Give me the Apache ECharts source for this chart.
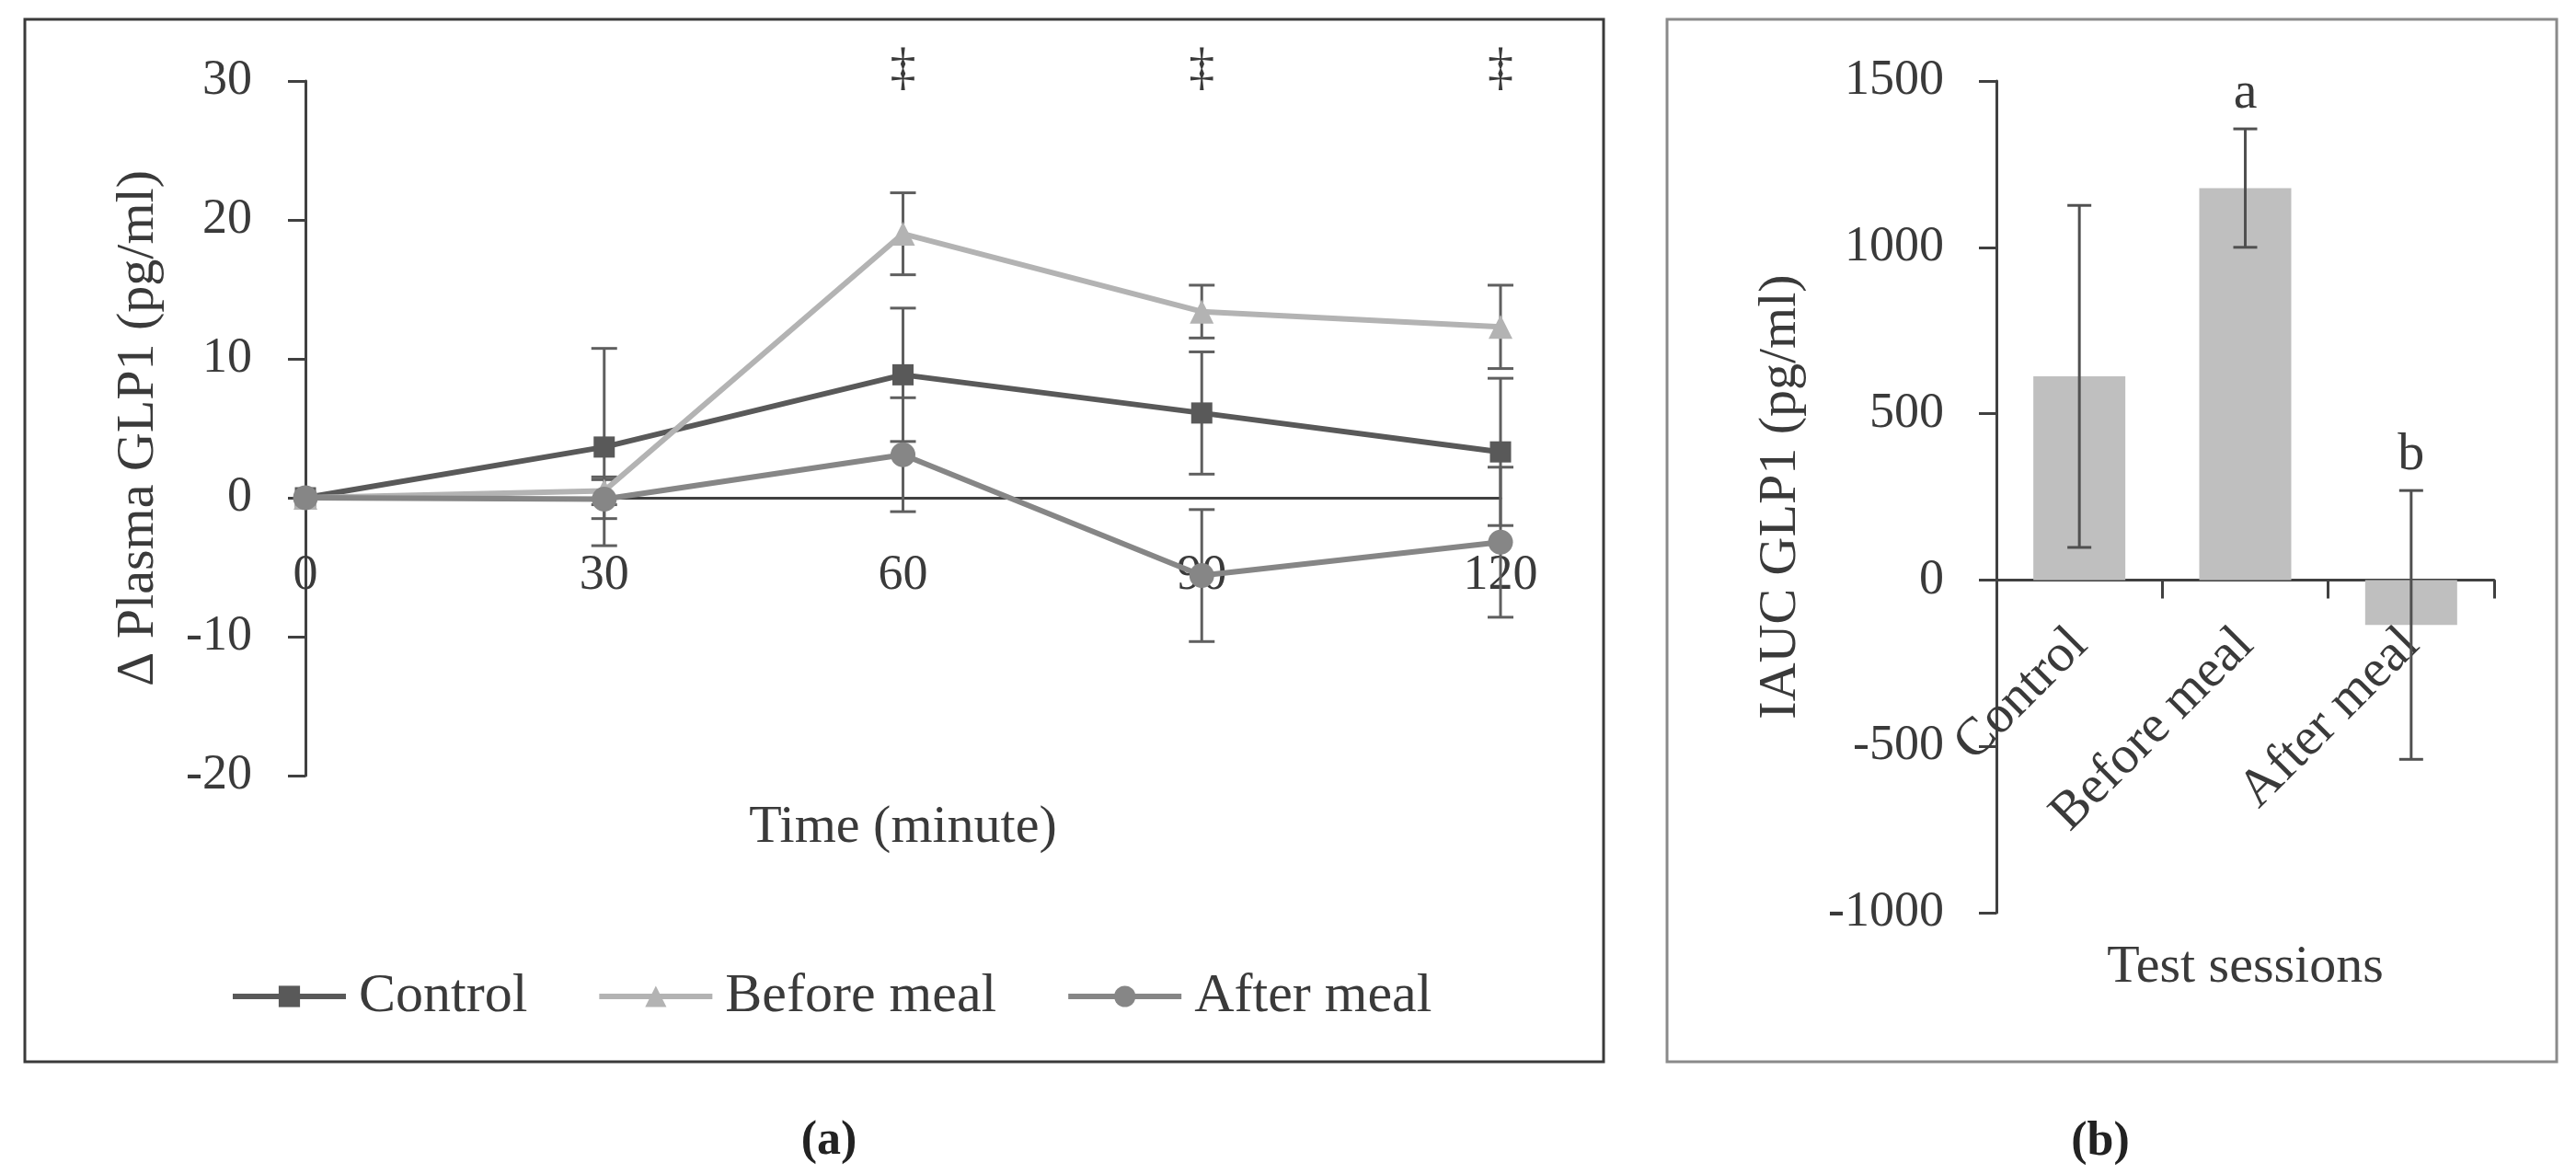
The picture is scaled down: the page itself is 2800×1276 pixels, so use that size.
<!DOCTYPE html>
<html>
<head>
<meta charset="utf-8">
<script src="https://cdn.jsdelivr.net/npm/echarts@6/dist/echarts.min.js"></script>
<style>
  html, body { margin: 0; padding: 0; background: #fff; }
  #chart { width: 2800px; height: 1276px; }
</style>
</head>
<body>
<div id="chart"></div>
<script>
// panel (a): change in plasma GLP1 over time
const timePoints = [0, 30, 60, 90, 120];
const controlMean = [0, 3.65, 8.85, 6.1, 3.3];
const controlErr = [0, 7.1, 4.8, 4.4, 5.3];
const beforeMean = [0, 0.5, 19.0, 13.4, 12.3];
const beforeErr = [0, 1.0, 2.95, 1.9, 3.0];
const afterMean = [0, -0.1, 3.1, -5.6, -3.2];
const afterErr = [0, 1.4, 4.1, 4.75, 5.4];
const timeMarks = ['', '', '‡', '‡', '‡'];

// panel (b): IAUC per test session
const sessions = ['Control', 'Before meal', 'After meal'];
const iaucMean = [612, 1178, -135];
const iaucErr = [514, 178, 404];
const iaucLetters = ['', 'a', 'b'];

const FONT = 'Liberation Serif';
const TXT = '#3a3a3a';

// grids: the category/time axis sits on the zero line, so shift it up from the grid bottom
const gridA = { left: 332, top: 88, width: 1299, height: 755, yMin: -20, yMax: 30 };
const gridB = { left: 2170, top: 88, width: 541, height: 904, yMin: -1000, yMax: 1500 };
function zeroOffset(g) { return -g.height * (0 - g.yMin) / (g.yMax - g.yMin); }

const chart = echarts.init(document.getElementById('chart'));

function pairs(xs, ys) { return xs.map((x, i) => [x, ys[i]]); }
function errData(xs, m, e) { return xs.map((x, i) => [x, m[i] - e[i], m[i] + e[i]]); }

function errorBars(color, cap) {
  return function (params, api) {
    const lo = api.value(1), hi = api.value(2);
    if (hi === lo) return null;
    const top = api.coord([api.value(0), hi]);
    const bot = api.coord([api.value(0), lo]);
    const st = { stroke: color, lineWidth: 3 };
    const w = cap / 2;
    return {
      type: 'group',
      children: [
        { type: 'line', shape: { x1: top[0], y1: top[1], x2: bot[0], y2: bot[1] }, style: st },
        { type: 'line', shape: { x1: top[0] - w, y1: top[1], x2: top[0] + w, y2: top[1] }, style: st },
        { type: 'line', shape: { x1: bot[0] - w, y1: bot[1], x2: bot[0] + w, y2: bot[1] }, style: st }
      ]
    };
  };
}

function textAbove(labels, dy, size) {
  return function (params, api) {
    const t = labels[params.dataIndex];
    if (!t) return null;
    const p = api.coord([api.value(0), api.value(1)]);
    return {
      type: 'text',
      style: { text: t, x: p[0], y: p[1] + dy, fill: TXT, font: size + 'px "' + FONT + '"', align: 'center', verticalAlign: 'middle' }
    };
  };
}

const lineColors = { control: '#595959', before: '#b3b3b3', after: '#868686' };
const errColor = '#5f5f5f';
const plain = v => String(v);

const option = {
  animation: false,
  textStyle: { fontFamily: FONT, color: TXT },
  graphic: [
    { type: 'rect', shape: { x: 27, y: 21, width: 1716, height: 1133 }, style: { fill: 'none', stroke: '#3a3a3a', lineWidth: 3 } },
    { type: 'rect', shape: { x: 1812, y: 21, width: 967, height: 1133 }, style: { fill: 'none', stroke: '#8a8a8a', lineWidth: 3 } },
    { type: 'text', x: 901, y: 1241, style: { text: '(a)', font: 'bold 52px "' + FONT + '"', fill: '#222', align: 'center', verticalAlign: 'middle' } },
    { type: 'text', x: 2283, y: 1242, style: { text: '(b)', font: 'bold 52px "' + FONT + '"', fill: '#222', align: 'center', verticalAlign: 'middle' } }
  ],
  legend: {
    left: 245, top: 1048,
    itemWidth: 123, itemHeight: 29, itemGap: 75,
    data: ['Control', 'Before meal', 'After meal'],
    lineStyle: { width: 6 },
    textStyle: { fontSize: 60, color: TXT, fontFamily: FONT, padding: [0, 0, 0, 9] }
  },
  grid: [
    { left: gridA.left, top: gridA.top, width: gridA.width, height: gridA.height },
    { left: gridB.left, top: gridB.top, width: gridB.width, height: gridB.height }
  ],
  xAxis: [
    {
      gridIndex: 0, type: 'value', min: 0, max: 120, interval: 30,
      offset: zeroOffset(gridA),
      name: 'Time (minute)', nameLocation: 'middle', nameGap: 330,
      nameTextStyle: { fontSize: 58, color: TXT, fontFamily: FONT },
      axisLine: { onZero: false, lineStyle: { color: '#404040', width: 3 } },
      axisTick: { show: false },
      splitLine: { show: false },
      axisLabel: { fontSize: 54, color: TXT, margin: 58, fontFamily: FONT }
    },
    {
      gridIndex: 1, type: 'category', data: sessions,
      offset: zeroOffset(gridB),
      name: 'Test sessions', nameLocation: 'middle', nameGap: 392,
      nameTextStyle: { fontSize: 58, color: TXT, fontFamily: FONT },
      axisLine: { onZero: false, lineStyle: { color: '#404040', width: 3 } },
      axisTick: { show: true, length: 20, lineStyle: { color: '#404040', width: 3 } },
      axisLabel: { fontSize: 58, color: TXT, rotate: 45, margin: 62, fontFamily: FONT, interval: 0 }
    }
  ],
  yAxis: [
    {
      gridIndex: 0, type: 'value', min: gridA.yMin, max: gridA.yMax, interval: 10,
      name: 'Δ Plasma GLP1 (pg/ml)', nameLocation: 'middle', nameGap: 152,
      nameTextStyle: { fontSize: 58, color: TXT, fontFamily: FONT },
      axisLine: { show: true, onZero: false, lineStyle: { color: '#404040', width: 3 } },
      axisTick: { show: true, length: 19, lineStyle: { color: '#404040', width: 3 } },
      splitLine: { show: false },
      axisLabel: { fontSize: 54, color: TXT, margin: 58, fontFamily: FONT, formatter: plain }
    },
    {
      gridIndex: 1, type: 'value', min: gridB.yMin, max: gridB.yMax, interval: 500,
      name: 'IAUC GLP1 (pg/ml)', nameLocation: 'middle', nameGap: 205,
      nameTextStyle: { fontSize: 58, color: TXT, fontFamily: FONT },
      axisLine: { show: true, onZero: false, lineStyle: { color: '#404040', width: 3 } },
      axisTick: { show: true, length: 19, lineStyle: { color: '#404040', width: 3 } },
      splitLine: { show: false },
      axisLabel: { fontSize: 54, color: TXT, margin: 57, fontFamily: FONT, formatter: plain }
    }
  ],
  series: [
    // error bars (a)
    { type: 'custom', xAxisIndex: 0, yAxisIndex: 0, z: 1, renderItem: errorBars(errColor, 28),
      encode: { x: 0, y: [1, 2] }, data: errData(timePoints, controlMean, controlErr) },
    { type: 'custom', xAxisIndex: 0, yAxisIndex: 0, z: 1, renderItem: errorBars(errColor, 28),
      encode: { x: 0, y: [1, 2] }, data: errData(timePoints, beforeMean, beforeErr) },
    { type: 'custom', xAxisIndex: 0, yAxisIndex: 0, z: 1, renderItem: errorBars(errColor, 28),
      encode: { x: 0, y: [1, 2] }, data: errData(timePoints, afterMean, afterErr) },
    // lines (a)
    { name: 'Control', type: 'line', xAxisIndex: 0, yAxisIndex: 0, z: 3,
      data: pairs(timePoints, controlMean), symbol: 'rect', symbolSize: 23,
      lineStyle: { color: lineColors.control, width: 6 }, itemStyle: { color: lineColors.control } },
    { name: 'Before meal', type: 'line', xAxisIndex: 0, yAxisIndex: 0, z: 4,
      data: pairs(timePoints, beforeMean), symbol: 'triangle', symbolSize: 26,
      lineStyle: { color: lineColors.before, width: 6 }, itemStyle: { color: lineColors.before } },
    { name: 'After meal', type: 'line', xAxisIndex: 0, yAxisIndex: 0, z: 5,
      data: pairs(timePoints, afterMean), symbol: 'circle', symbolSize: 27,
      lineStyle: { color: lineColors.after, width: 6 }, itemStyle: { color: lineColors.after } },
    // significance marks (a)
    { type: 'custom', xAxisIndex: 0, yAxisIndex: 0, z: 6, clip: false,
      renderItem: textAbove(timeMarks, -12, 56),
      encode: { x: 0, y: 1 }, data: timePoints.map(t => [t, gridA.yMax]) },
    // bars (b)
    { type: 'bar', xAxisIndex: 1, yAxisIndex: 1, z: 2, barWidth: 100,
      data: iaucMean, itemStyle: { color: '#bfbfbf' } },
    { type: 'custom', xAxisIndex: 1, yAxisIndex: 1, z: 3, renderItem: errorBars('#505050', 26),
      encode: { x: 0, y: [1, 2] }, data: errData([0, 1, 2], iaucMean, iaucErr) },
    { type: 'custom', xAxisIndex: 1, yAxisIndex: 1, z: 4, clip: false,
      renderItem: textAbove(iaucLetters, -38, 58),
      encode: { x: 0, y: 1 }, data: iaucMean.map((m, i) => [i, m + iaucErr[i]]) }
  ]
};

chart.setOption(option);
</script>
</body>
</html>
